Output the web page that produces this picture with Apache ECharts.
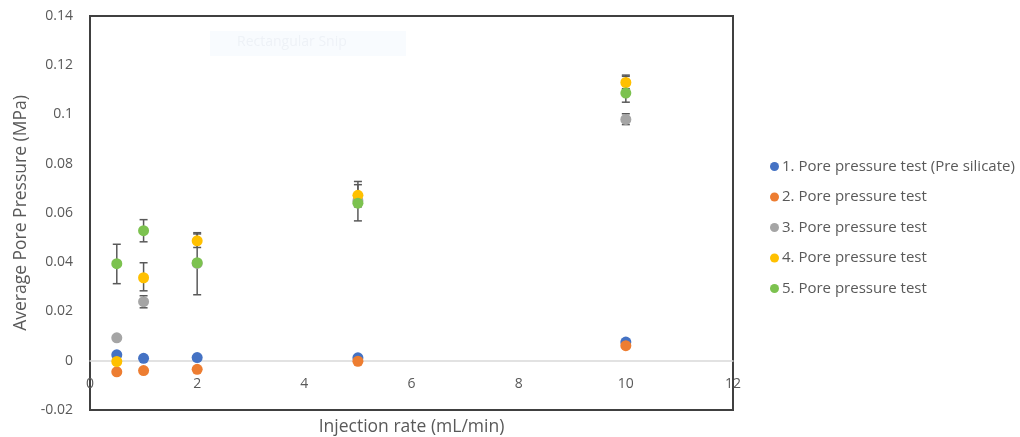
<!DOCTYPE html>
<html>
<head>
<meta charset="utf-8">
<script src="https://cdn.jsdelivr.net/npm/echarts@6/dist/echarts.min.js"></script>
<style>html,body{margin:0;padding:0;background:#fff}#c{width:1020px;height:437px}</style>
</head>
<body>
<div id="c"></div>
<script>
// Data
const seriesNames = [
  '1. Pore pressure test (Pre silicate)',
  '2. Pore pressure test',
  '3. Pore pressure test',
  '4. Pore pressure test',
  '5. Pore pressure test'
];
const rates = [0.5, 1, 2, 5, 10];
const test1 = [0.0024, 0.0010, 0.0013, 0.0012, 0.0076];
const test2 = [-0.0045, -0.0040, -0.0035, -0.0002, 0.0061];
const test3 = [0.0093, 0.0240, 0.0395, 0.0650, 0.0980];
const test4 = [-0.0003, 0.0337, 0.0487, 0.0672, 0.1130];
const test5 = [0.0394, 0.0528, 0.0398, 0.0640, 0.1087];
// error bars: [rate, low, high]
const err3 = [[1, 0.0215, 0.0264], [10, 0.0959, 0.1003]];
const err4 = [[1, 0.0284, 0.0398], [2, 0.0460, 0.0515], [5, 0.0625, 0.0728], [10, 0.1105, 0.1160]];
const err5 = [[0.5, 0.0313, 0.0473], [1, 0.0483, 0.0573], [2, 0.0268, 0.0520], [5, 0.0568, 0.0715], [10, 0.1050, 0.1155]];

const colors = ['#4472C4', '#ED7D31', '#A5A5A5', '#FFC000', '#7CC24F'];
const allValues = [test1, test2, test3, test4, test5];
const allErrs = [null, null, err3, err4, err5];

const chart = echarts.init(document.getElementById('c'));

function errSeries(data) {
  return {
    type: 'custom',
    silent: true,
    z: 1,
    data: data,
    renderItem: function (params, api) {
      const x = api.value(0);
      const lo = api.coord([x, api.value(1)]);
      const hi = api.coord([x, api.value(2)]);
      const w = 4;
      const st = { stroke: '#595959', lineWidth: 1.5 };
      return {
        type: 'group',
        children: [
          { type: 'line', shape: { x1: lo[0], y1: lo[1], x2: hi[0], y2: hi[1] }, style: st },
          { type: 'line', shape: { x1: lo[0] - w, y1: lo[1], x2: lo[0] + w, y2: lo[1] }, style: st },
          { type: 'line', shape: { x1: hi[0] - w, y1: hi[1], x2: hi[0] + w, y2: hi[1] }, style: st }
        ]
      };
    }
  };
}

const series = [];
allErrs.forEach(function (e) { if (e) series.push(errSeries(e)); });
allValues.forEach(function (vals, i) {
  series.push({
    name: seriesNames[i],
    type: 'scatter',
    symbol: 'circle',
    symbolSize: 11,
    z: 3,
    itemStyle: { color: colors[i], opacity: 1 },
    data: rates.map(function (r, j) { return [r, vals[j]]; })
  });
});

chart.setOption({
  animation: false,
  color: colors,
  textStyle: { fontFamily: 'Open Sans, Noto Sans, sans-serif' },
  grid: {
    left: 90, top: 16, right: 287, bottom: 27,
    outerBoundsMode: 'none',
    containLabel: false,
    show: true, borderColor: '#404040', borderWidth: 2, backgroundColor: 'transparent'
  },
  legend: {
    orient: 'vertical',
    left: 765,
    top: 154,
    itemGap: 15.5,
    itemWidth: 9,
    itemHeight: 9,
    icon: 'circle',
    textStyle: { color: '#595959', fontSize: 15, padding: [0, 0, 0, -2] },
    data: seriesNames
  },
  xAxis: {
    type: 'value',
    min: 0, max: 12, interval: 2,
    axisLine: { show: true, onZero: true, lineStyle: { color: '#d9d9d9', width: 1.5 } },
    axisTick: { show: false },
    splitLine: { show: false },
    axisLabel: { color: '#595959', fontSize: 14, margin: -33 },
    name: 'Injection rate (mL/min)',
    nameLocation: 'middle',
    nameGap: 8,
    nameTextStyle: { color: '#595959', fontSize: 17.5 }
  },
  yAxis: {
    type: 'value',
    min: -0.02, max: 0.14, interval: 0.02,
    axisLine: { show: false },
    axisTick: { show: false },
    splitLine: { show: false },
    axisLabel: {
      color: '#595959', fontSize: 14, margin: 17,
      formatter: function (v) { return String(parseFloat(v.toFixed(2))); }
    },
    name: 'Average Pore Pressure (MPa)',
    nameLocation: 'middle',
    nameGap: 60,
    nameTextStyle: { color: '#595959', fontSize: 17.5 }
  },
  graphic: [
    { type: 'rect', left: 210, top: 31, shape: { width: 196, height: 25 }, style: { fill: 'rgba(235,243,252,0.35)' }, silent: true },
    { type: 'text', left: 237, top: 35, style: { text: 'Rectangular Snip', fill: '#eef2f7', font: '14px Open Sans, sans-serif' }, silent: true }
  ],
  series: series
});
</script>
</body>
</html>
